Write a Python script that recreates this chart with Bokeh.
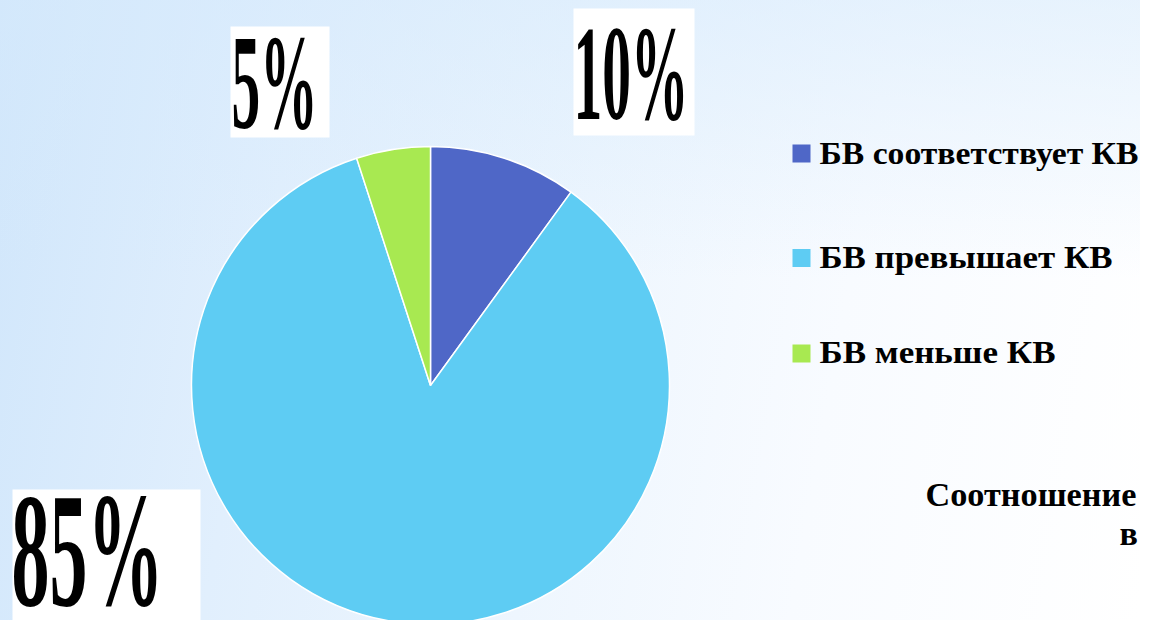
import json
import numpy as np
from bokeh.plotting import figure
from bokeh.models import Range1d, CustomJS
from bokeh.document import Document
from bokeh.embed import file_html
from bokeh.resources import INLINE
from bokeh.core.properties import value

# ---------------- data ----------------
categories = ["БВ соответствует КВ", "БВ превышает КВ", "БВ меньше КВ"]
shares = [10, 85, 5]
pct_labels = ["10%", "85%", "5%"]
colors = ["#4F67C7", "#5ECCF3", "#A8E951"]
title_lines = ["Соотношение", "в"]

# ---------------- figure ----------------
W, H = 1140, 620
p = figure(width=W, height=H, x_range=Range1d(0, W), y_range=Range1d(0, H),
           output_backend="svg", toolbar_location=None, min_border=0,
           x_axis_location=None, y_axis_location=None)
p.grid.visible = False
p.outline_line_color = None
p.background_fill_alpha = 0
p.border_fill_alpha = 0
p.styles = {"background": (
    "linear-gradient(to bottom, rgba(214,234,252,0.55) 0%, rgba(255,255,255,0) 45%), "
    "linear-gradient(100deg, #d0e6fb 0%, #e1effd 25%, #eef6fe 50%, #f8fbff 72%, #ffffff 100%)")}

FONT = value("Liberation Serif")

# ---------------- pie ----------------
cx, cy, R = 430, 235, 239
total = float(sum(shares))
cum = np.cumsum([0] + shares)
start = np.pi / 2 - 2 * np.pi * cum[:-1] / total
end = np.pi / 2 - 2 * np.pi * cum[1:] / total
p.wedge(x=cx, y=cy, radius=R, start_angle=list(start), end_angle=list(end),
        direction="clock", fill_color=colors, line_color="white", line_width=1.5)

# ---------------- percent labels (white boxes) ----------------
# order follows pct_labels: 10%, 85%, 5%
box_l = [573, 12, 230]
box_r = [694, 200, 329]
box_b = [485, -20, 483]
box_t = [612, 131, 594]
p.quad(left=box_l, right=box_r, bottom=box_b, top=box_t,
       fill_color="white", line_color=None)
lab_x = [573, 11, 231]
lab_y = [547, 71, 539]
lab_size = ["135px", "163px", "136px"]
lab_len = [115, 152, 86]
for t, x, y, s in zip(pct_labels, lab_x, lab_y, lab_size):
    p.text(x=[x], y=[y], text=[t], text_font=FONT,
           text_font_style="bold", text_font_size=s, text_color="black",
           text_align="left", text_baseline="alphabetic")

# ---------------- legend ----------------
leg_sq_x = 801
leg_sq_y = [467, 362.5, 267]
leg_tx_x = 819
leg_tx_y = [467, 363, 268]
leg_len = [319, 293, 236]
p.scatter(x=[leg_sq_x] * 3, y=leg_sq_y, marker="square", size=18,
          fill_color=colors, line_color=None)
p.text(x=[leg_tx_x] * 3, y=leg_tx_y, text=categories,
       text_font=FONT, text_font_style="bold",
       text_font_size="31px", text_color="black",
       text_align="left", text_baseline="alphabetic")

# ---------------- title (cut off at the right edge in the original) ----------------
p.text(x=[925, 1119], y=[126, 87], text=title_lines,
       text_font=FONT, text_font_style="bold",
       text_font_size="34px", text_color="black",
       text_align="left", text_baseline="alphabetic")

# adjust horizontal extent of texts (SVG textLength) to match the slide's stretched/condensed text
targets = {t: l for t, l in zip(pct_labels, lab_len)}
targets.update({t: l for t, l in zip(categories, leg_len)})
targets[title_lines[0]] = 211
js = "const targets = " + json.dumps(targets, ensure_ascii=False) + ";\n" + """
function walk(root, out) {
  const els = root.querySelectorAll("*");
  for (const el of els) {
    if (el.tagName && el.tagName.toLowerCase() === "text") out.push(el);
    if (el.shadowRoot) walk(el.shadowRoot, out);
  }
}
function apply() {
  const out = [];
  walk(document, out);
  for (const t of out) {
    const s = (t.textContent || "").trim();
    if (Object.prototype.hasOwnProperty.call(targets, s)) {
      if (t.getAttribute("textLength") !== String(targets[s])) {
        t.setAttribute("textLength", String(targets[s]));
        t.setAttribute("lengthAdjust", "spacingAndGlyphs");
      }
    }
  }
}
apply();
setInterval(apply, 40);
"""
doc = Document()
doc.add_root(p)
doc.js_on_event("document_ready", CustomJS(code=js))

open("out.html", "w").write(file_html(p, INLINE))
